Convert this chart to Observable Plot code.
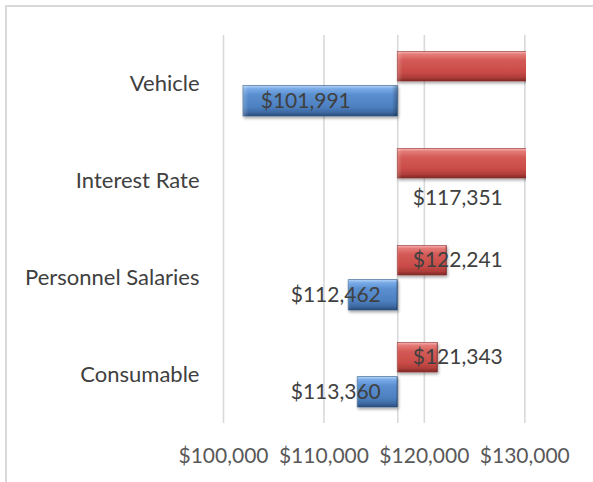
<!DOCTYPE html>
<html><head><meta charset="utf-8">
<script src="https://cdn.jsdelivr.net/npm/d3@7"></script>
<script src="https://cdn.jsdelivr.net/npm/@observablehq/plot@0.6"></script>
<style>
html,body{margin:0;padding:0;background:#fff;overflow:hidden;}
#wrap{position:relative;width:593px;height:482px;overflow:hidden;}
#frame{position:absolute;left:5px;top:5px;width:700px;height:700px;border-left:2px solid #d9d9d9;border-top:2px solid #d9d9d9;}
#chart{position:absolute;left:0;top:0;}
</style></head><body>
<div id="wrap"><div id="frame"></div><div id="chart"></div></div>
<script>
const categories = ["Vehicle", "Interest Rate", "Personnel Salaries", "Consumable"];
const baseValue = 117351;
const highValues = [132711, 131000, 122241, 121343];
const lowValues = [101991, 117351, 112462, 113360];
const xTicks = [100000, 110000, 120000, 130000];
const xDomain = [100000, 130170];

const fmt = d3.format("$,.0f");
const high = categories.map((c, i) => ({category: c, value: highValues[i]}));
const low = categories.map((c, i) => ({category: c, value: lowValues[i]}));
const inDomain = d => d.value >= xDomain[0] && d.value <= xDomain[1];
const highLabels = high.filter(inDomain);
const lowZero = low.filter(d => d.value === baseValue);
const lowShort = low.filter(d => d.value < baseValue && baseValue - d.value < 10000);
const lowLong = low.filter(d => d.value < baseValue && baseValue - d.value >= 10000);

const font = "Lato, 'Open Sans', sans-serif";
const plot = Plot.plot({
  width: 593,
  height: 482,
  marginLeft: 223,
  marginRight: 67,
  marginTop: 35,
  marginBottom: 59,
  style: {fontFamily: font, fontSize: "21px", background: "transparent", color: "#595959"},
  x: {domain: xDomain, nice: false},
  y: {domain: categories, padding: 0},
  marks: [
    Plot.gridX(xTicks, {stroke: "#d9d9d9", strokeOpacity: 1, strokeWidth: 1.6}),
    Plot.ruleX([baseValue], {stroke: "#d9d9d9", strokeOpacity: 1, strokeWidth: 1.6}),
    Plot.barX(high, {x1: baseValue, x2: "value", y: "category", insetTop: 16.5, insetBottom: 51,
      fill: "url(#gradRed)", stroke: "#8f2f2c", strokeWidth: 0.6, clip: true, className: "bevel"}),
    Plot.barX(high, {x1: baseValue, x2: "value", y: "category", insetTop: 16.5, insetBottom: 51,
      fill: "url(#gradEdge)", clip: true}),
    Plot.barX(low, {x1: baseValue, x2: "value", y: "category", insetTop: 50.7, insetBottom: 16,
      fill: "url(#gradBlue)", stroke: "#2c5687", strokeWidth: 0.6, clip: true, className: "bevel"}),
    Plot.barX(low, {x1: baseValue, x2: "value", y: "category", insetTop: 50.7, insetBottom: 16,
      fill: "url(#gradEdge)", clip: true}),
    Plot.text(highLabels, {x: baseValue, y: "category", text: d => fmt(d.value), dx: 15, dy: -17.5,
      textAnchor: "start", fill: "#404040", fontSize: 21}),
    Plot.text(lowZero, {x: baseValue, y: "category", text: d => fmt(d.value), dx: 15, dy: 17.5,
      textAnchor: "start", fill: "#404040", fontSize: 21}),
    Plot.text(lowShort, {x: baseValue, y: "category", text: d => fmt(d.value), dx: -17, dy: 17.5,
      textAnchor: "end", fill: "#404040", fontSize: 21}),
    Plot.text(lowLong, {x: baseValue, y: "category", text: d => fmt(d.value), dx: -47, dy: 17.5,
      textAnchor: "end", fill: "#404040", fontSize: 21}),
    Plot.axisX({ticks: xTicks, tickFormat: fmt, tickSize: 0, tickPadding: 25, fill: "#595959", fontSize: 21, label: null}),
    Plot.axisY({tickSize: 0, tickPadding: 24, fill: "#404040", fontSize: 22, label: null})
  ]
});

const svg = d3.select(plot);
const defs = svg.insert("defs", ":first-child");
function grad(id, stops, horizontal) {
  const g = defs.append("linearGradient").attr("id", id).attr("x1", 0).attr("y1", 0)
    .attr("x2", horizontal ? 1 : 0).attr("y2", horizontal ? 0 : 1);
  stops.forEach(([o, c, a]) => g.append("stop").attr("offset", o).attr("stop-color", c).attr("stop-opacity", a == null ? 1 : a));
}
grad("gradRed", [[0, "#f6b4b2"], [0.1, "#e47a77"], [0.3, "#d45a56"], [0.7, "#c94b47"], [0.88, "#ad3c39"], [1, "#7e2826"]]);
grad("gradBlue", [[0, "#b3d4f8"], [0.1, "#78aae6"], [0.3, "#5a8fd0"], [0.7, "#4d80c0"], [0.88, "#3d6aa3"], [1, "#2a4c78"]]);
grad("gradEdge", [[0, "#ffffff", 0.22], [0.035, "#ffffff", 0.0], [0.965, "#000000", 0.0], [1, "#000000", 0.28]], true);
const f = defs.append("filter").attr("id", "shadow").attr("x", "-10%").attr("y", "-20%").attr("width", "130%").attr("height", "160%");
f.append("feDropShadow").attr("dx", 1).attr("dy", 2).attr("stdDeviation", 1.8).attr("flood-color", "#000").attr("flood-opacity", 0.35);
svg.selectAll("g.bevel, .bevel").attr("filter", "url(#shadow)");
document.getElementById("chart").appendChild(plot);
</script>
</body></html>
